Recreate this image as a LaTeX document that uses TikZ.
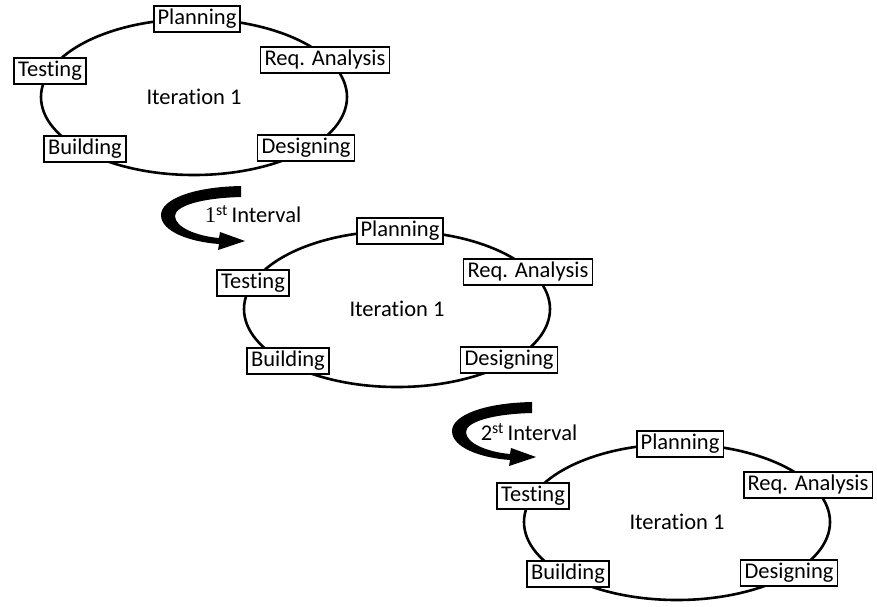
\documentclass[tikz,border=0pt]{standalone}
\usepackage{fontspec}
\setmainfont{Carlito}[Ligatures=NoCommon]
\newfontfamily\numserif{Liberation Serif}

% thick curled arrow between two iterations, #1 = its square top end
\newcommand{\intervalarrow}[1]{%
  \fill[shift={(#1)}] (0,-6) .. controls (-50,-5) and (-80,8) .. (-80,23)
    .. controls (-80,40) and (-50,50) .. (-22,52) -- (-23,58) -- (4,49)
    -- (-21,40) -- (-22,46) .. controls (-45,44) and (-66,35) .. (-66,24)
    .. controls (-66,14) and (-40,6) .. (0,5) -- cycle;}

\begin{document}
\begin{tikzpicture}[x=1pt, y=-1pt,
    every node/.style = {font=\fontsize{22.5}{27}\selectfont},
    phase/.style = {draw, fill=white, line width=1.8pt, inner xsep=4pt,
      inner ysep=2.5pt, text height=16.5pt, text depth=5pt},
    cycleline/.style = {line width=2.6pt}]
  \useasboundingbox (0,0) rectangle (877,606);

  \foreach \i/\cx/\cy in {1/194/97, 2/397/309, 3/677/522} {
    \begin{scope}[shift={(\cx,\cy)}]
      \draw[cycleline] (0,0) ellipse [x radius=153, y radius=78];
      \node (iter\i) at (0,0) {Iteration 1};
      \node[phase] (plan\i) at (3,-78) {Planning};
      \node[phase] (req\i) at (131,-37) {Req. Analysis};
      \node[phase] (test\i) at (-144,-26) {Testing};
      \node[phase] (build\i) at (-109,52) {Building};
      \node[phase] (design\i) at (112,51) {Designing};
    \end{scope}
  }

  % intervals
  \intervalarrow{241,192}
  \node (gap1) at (253,214) {{\numserif 1}\textsuperscript{st}\,Interval};
  \intervalarrow{532,408}
  \node (gap2) at (529,432) {2\textsuperscript{st}\,Interval};
\end{tikzpicture}
\end{document}
